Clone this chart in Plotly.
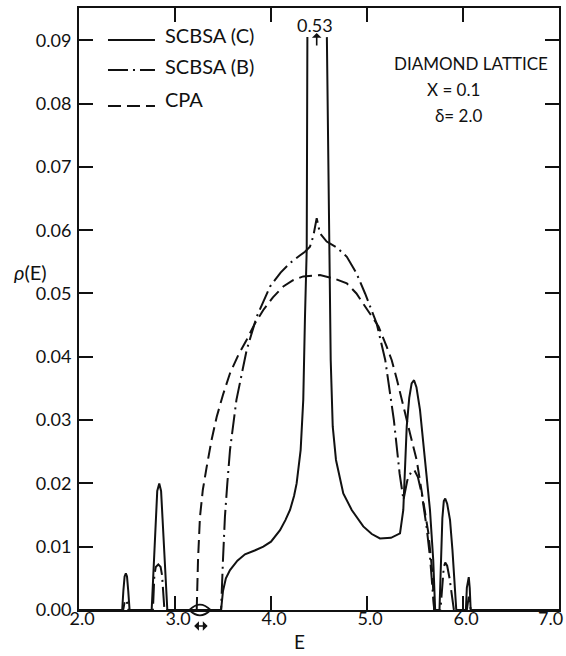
import plotly.graph_objects as go

# ---- data ----
peak_value = 0.53          # height of the off-scale central spike (printed as a label)
spike_clip = 0.0905        # spike drawn up to here, then labelled

scbsa_c_E = [2.0, 2.45, 2.462, 2.475, 2.488, 2.50, 2.513, 2.527,
             2.757, 2.78, 2.80, 2.815, 2.836, 2.855, 2.87, 2.895, 2.92,
             3.48, 3.50, 3.53, 3.573, 3.65, 3.729, 3.83, 3.92, 4.0, 4.094, 4.15,
             4.198, 4.24, 4.267, 4.309, 4.336, 4.354, 4.372, 4.379, None, 4.582,
             4.604, 4.622, 4.643, 4.677, 4.753, 4.841, 4.961, 5.05, 5.135, 5.25,
             5.344, 5.378, 5.414, 5.44, 5.465, 5.49, 5.515, 5.552, 5.604, 5.656, 5.69, 5.71,
             5.755, 5.77, 5.785, 5.80, 5.815, 5.835, 5.865, 5.89, 5.906, 5.93,
             6.03, 6.04, 6.06, 6.07, 6.08, 7.0]
scbsa_c_rho = [0, 0, 0.003, 0.0053, 0.0058, 0.0053, 0.003, 0,
               0, 0.007, 0.0145, 0.0188, 0.0200, 0.0188, 0.0145, 0.007, 0,
               0, 0.003, 0.0050, 0.0063, 0.0078, 0.0088, 0.0094, 0.0100, 0.0108, 0.0126, 0.0142,
               0.0158, 0.0180, 0.0200, 0.0253, 0.0332, 0.0463, 0.0569, spike_clip, None, spike_clip,
               0.0569, 0.0395, 0.0290, 0.0237, 0.0184, 0.0158, 0.0132, 0.0120, 0.0113, 0.0114,
               0.0121, 0.0158, 0.029, 0.0335, 0.0358, 0.0363, 0.0352, 0.0316, 0.0237, 0.0158, 0.0079, 0,
               0, 0.008, 0.0145, 0.0172, 0.0176, 0.0168, 0.0142, 0.0095, 0.0063, 0,
               0, 0.0035, 0.0052, 0.0035, 0, 0]

scbsa_b_E = [2.0, 2.46, 2.475, 2.488, 2.50, 2.515,
             2.77, 2.785, 2.80, 2.826, 2.85, 2.865, 2.89,
             3.48, 3.50, 3.52, 3.545, 3.573, 3.64, 3.70, 3.747, 3.85, 3.99, 4.10, 4.198,
             4.30, 4.354, 4.406, 4.44, 4.476, 4.51, 4.58, 4.69, 4.79, 4.89, 4.98, 5.10,
             5.19, 5.28, 5.34, 5.38, 5.42, 5.46, 5.493, 5.53, 5.57, 5.62, 5.656, 5.70,
             5.765, 5.785, 5.80, 5.815, 5.835, 5.86, 5.89, 5.905,
             6.04, 6.05, 6.06, 6.07, 6.08, 7.0]
scbsa_b_rho = [0, 0, 0.0012, 0.0016, 0.0012, 0,
               0, 0.0055, 0.0068, 0.0072, 0.0068, 0.0055, 0,
               0, 0.008, 0.0147, 0.020, 0.0253, 0.0332, 0.0378, 0.0411, 0.0463, 0.0511, 0.0533, 0.0548,
               0.0560, 0.0566, 0.0574, 0.0590, 0.0619, 0.0595, 0.0582, 0.0572, 0.0558, 0.0532, 0.0500, 0.0453,
               0.0395, 0.0300, 0.0215, 0.0174, 0.0205, 0.0218, 0.0221, 0.0210, 0.0184, 0.0132, 0.0084, 0,
               0, 0.005, 0.0068, 0.0075, 0.0070, 0.005, 0.002, 0,
               0, 0.0015, 0.0021, 0.0015, 0, 0]

cpa_E = [3.226, 3.24, 3.26, 3.29, 3.33, 3.38, 3.434, 3.50, 3.573, 3.66, 3.747,
         3.83, 3.92, 4.02, 4.128, 4.23, 4.336, 4.51, 4.65, 4.79, 4.89, 5.03, 5.12,
         5.205, 5.257, 5.31, 5.36, 5.448, 5.517, 5.587, 5.64, 5.68, 5.70]
cpa_rho = [0, 0.008, 0.0147, 0.019, 0.0226, 0.0268, 0.0305, 0.034, 0.0374, 0.0403, 0.0427,
           0.0452, 0.0474, 0.0494, 0.0511, 0.0521, 0.0527, 0.0529, 0.0524, 0.0516, 0.0500, 0.0469, 0.0448,
           0.0416, 0.0395, 0.0365, 0.0332, 0.0279, 0.0237, 0.0174, 0.0121, 0.006, 0]

series_names = ["SCBSA (C)", "SCBSA (B)", "CPA"]
x_ticks = [2.0, 3.0, 4.0, 5.0, 6.0, 7.0]
y_ticks = [0.00, 0.01, 0.02, 0.03, 0.04, 0.05, 0.06, 0.07, 0.08, 0.09]
info_lines = ["DIAMOND LATTICE", "X = 0.1", "δ= 2.0"]

FONT = "Lato"
INK = "#111111"
dashes = ["solid", "20px,5px,2px,5px", "13px,6px"]

fig = go.Figure()
for name, xs, ys, dash in zip(series_names, [scbsa_c_E, scbsa_b_E, cpa_E],
                              [scbsa_c_rho, scbsa_b_rho, cpa_rho], dashes):
    fig.add_trace(go.Scatter(x=xs, y=ys, mode="lines", name=name, showlegend=False,
                             connectgaps=False, line=dict(color=INK, width=2, dash=dash)))

axis_common = dict(showline=True, linewidth=2, linecolor=INK, mirror="allticks",
                   ticks="inside", ticklen=14, tickwidth=2, tickcolor=INK,
                   showgrid=False, zeroline=False, ticklabeloverflow="allow", automargin=False,
                   tickfont=dict(family=FONT, size=18, color=INK))

# the last x label sits at the page edge; it is written separately so it stays inside the page
x_ticktext = [f"{v:.1f}" for v in x_ticks[:-1]] + [""]
fig.update_xaxes(range=[2, 7], tickvals=x_ticks, ticktext=x_ticktext,
                 ticklabelshift=3, ticklabelstandoff=-9, **axis_common)
fig.update_yaxes(range=[0, 0.0951], tickvals=y_ticks, ticktext=[f"{v:.2f}" for v in y_ticks],
                 ticklabelstandoff=2, **axis_common)


def label(text, x, y, xref="paper", yref="paper", size=18, xanchor="center", family=FONT):
    fig.add_annotation(text=text, xref=xref, yref=yref, x=x, y=y, showarrow=False,
                       xanchor=xanchor, yanchor="middle",
                       font=dict(family=family, size=size, color=INK))

label(f"{x_ticks[-1]:.1f}", 1.0135, -0.0135, xanchor="right")

# axis titles
label("<i>ρ</i>(E)", -0.102, 0.561, size=20)
label("E", 4.30, -0.052, xref="x", size=19)

# off-scale spike value with arrow
label(f"{peak_value:.2f}", 4.458, 0.972, xref="x")
fig.add_annotation(text="", xref="x", yref="paper", x=4.476, y=0.9585, ax=0, ay=14,
                   showarrow=True, arrowhead=1, arrowsize=1, arrowwidth=1.6, arrowcolor=INK,
                   standoff=0, startstandoff=0)

# info block
label(info_lines[0], 6.083, 0.907, xref="x", size=17)
label(info_lines[1], 5.896, 0.864, xref="x", size=17)
label(info_lines[2], 5.958, 0.822, xref="x", size=17)

# manual legend (longer line samples as in the original)
leg_line_y = [0.9468, 0.897, 0.8372]
leg_text_y = [0.955, 0.9037, 0.8488]
for name, dash, ly, ty in zip(series_names, dashes, leg_line_y, leg_text_y):
    fig.add_shape(type="line", xref="paper", yref="paper", x0=0.0604, x1=0.1583, y0=ly, y1=ly,
                  line=dict(color=INK, width=2, dash=dash))
    label(name, 0.175, ty, size=20, xanchor="left")

# small lens-shaped mark at the lower band edge and the double arrow below it
fig.add_shape(type="path", xref="x", yref="paper",
              path="M 3.15,0 Q 3.26,0.018 3.37,0 Q 3.26,-0.018 3.15,0 Z",
              line=dict(color=INK, width=1.8), fillcolor="rgba(0,0,0,0)")
fig.add_annotation(text="", xref="x", yref="paper", x=3.34, y=-0.0266, ax=-15, ay=0,
                   showarrow=True, arrowhead=1, arrowside="end+start", arrowsize=1,
                   arrowwidth=1.6, arrowcolor=INK, standoff=0, startstandoff=0)

fig.update_layout(
    width=566, height=656,
    margin=dict(l=79, r=7, t=8, b=46, autoexpand=False),
    paper_bgcolor="white", plot_bgcolor="white",
    font=dict(family=FONT, size=18, color=INK),
    showlegend=False,
)

fig.write_html("out.html")
